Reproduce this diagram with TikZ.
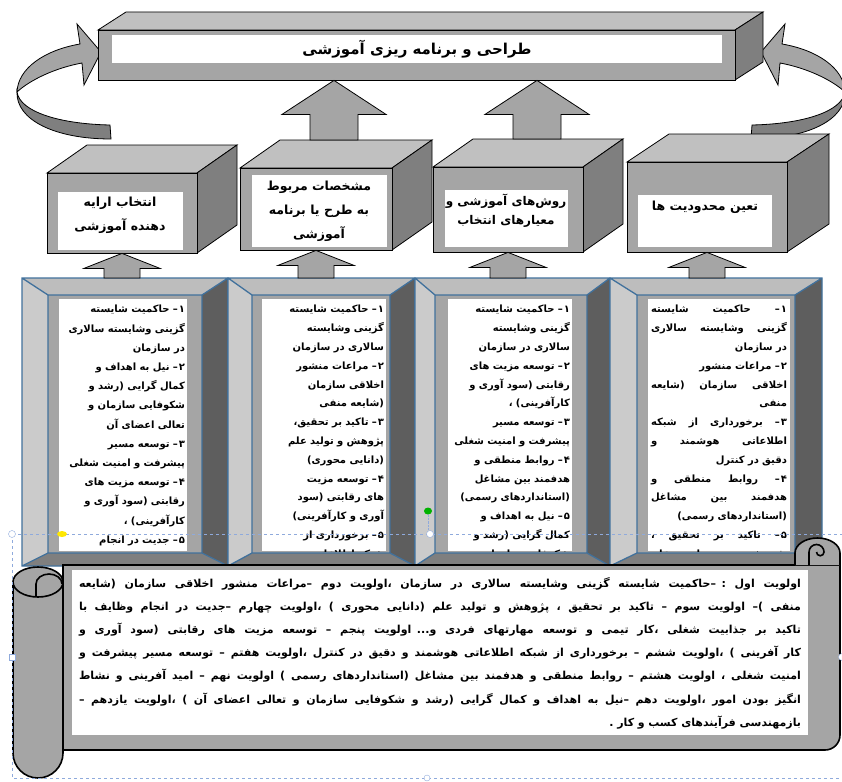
\documentclass[tikz,border=0pt]{standalone}
\usepackage{fontspec}
\usetikzlibrary{calc}
\newfontfamily\fa[Script=Arabic]{DejaVu Sans}
\TeXXeTstate=1

\definecolor{facegray}{HTML}{A5A5A5}
\definecolor{topgray}{HTML}{C0C0C0}
\definecolor{sidegray}{HTML}{7F7F7F}
\definecolor{bevlight}{HTML}{CBCBCB}
\definecolor{bevmid}{HTML}{BDBDBD}
\definecolor{bevdark}{HTML}{5E5E5E}
\definecolor{frameblue}{HTML}{41719C}
\definecolor{selblue}{HTML}{8FAADC}

\newcommand{\rl}[1]{\beginR#1\endR}
\newcommand{\itm}[1]{#1\kern1pt–}
\newcommand{\jline}[1]{\hbox to 722pt{\spaceskip=3.4pt plus 60pt minus 1pt\beginR#1\endR}}
\newcommand{\lastline}[1]{\hbox to 722pt{\hfill\beginR#1\endR}}
\newcommand{\fj}[1]{\hbox to 136pt{\spaceskip=3pt plus 60pt minus 1pt\beginR#1\endR}}
\newcommand{\fr}[1]{\hbox to 136pt{\hfill\beginR#1\endR}}

\tikzset{cubefront/.style={draw,thick,fill=facegray,inner sep=0pt}}
\tikzset{cubetop/.style={draw,thick,fill=topgray}}
\tikzset{cubeside/.style={draw,thick,fill=sidegray}}
\tikzset{tag/.style={fill=white,inner sep=0pt}}
\tikzset{caption/.style={font=\fa\bfseries\fontsize{12.5}{24}\selectfont,align=center,inner sep=0pt}}
\tikzset{blockarrow/.style={draw,thick,fill=facegray,line join=miter}}
\tikzset{bevline/.style={draw=frameblue,line width=1.3pt}}
\tikzset{notes/.style={font=\fa\bfseries\fontsize{10}{19.2}\selectfont,align=right,inner sep=0pt,anchor=north}}
\tikzset{scrollbody/.style={draw,line width=1.6pt,fill=facegray}}
\tikzset{prio/.style={font=\fa\bfseries\fontsize{11}{23.2}\selectfont,text width=722pt,inner sep=0pt}}
\tikzset{selline/.style={draw=selblue,dashed,line width=0.8pt}}

% 3d box: name, x1, y1, x2, y2, depth, lift
\newcommand{\cube}[7]{%
  \draw[cubetop] (#2,#3) -- (#2+#6,#3-#7) -- (#4+#6,#3-#7) -- (#4,#3) -- cycle;
  \draw[cubeside] (#4,#3) -- (#4+#6,#3-#7) -- (#4+#6,#5-#7) -- (#4,#5) -- cycle;
  \node[cubefront,minimum width=#4-#2,minimum height=#5-#3] (#1) at ({(#2+#4)/2},{(#3+#5)/2}) {};}

% bevelled frame: name, outer x1 x2, inner x1 x2, sheet x1 x2
\newcommand{\bevelframe}[7]{%
  \fill[bevmid] (#2,278) -- (#3,278) -- (#5,295) -- (#4,295) -- cycle;
  \fill[bevlight] (#2,278) -- (#4,295) -- (#4,553) -- (#2,566) -- cycle;
  \fill[bevdark] (#3,278) -- (#5,295) -- (#5,553) -- (#3,566) -- cycle;
  \fill[sidegray] (#2,566) -- (#4,553) -- (#5,553) -- (#3,566) -- cycle;
  \fill[facegray] (#4,295) rectangle (#5,553);
  \draw[bevline] (#2,278) rectangle (#3,566) (#4,295) rectangle (#5,553)
    (#2,278) -- (#4,295) (#3,278) -- (#5,295) (#2,566) -- (#4,553) (#3,566) -- (#5,553);
  \node[tag,minimum width=#7-#6,minimum height=252,anchor=north west] (#1s) at (#6,299) {};
  \node[inner sep=0pt,minimum width=#3-#2,minimum height=288,anchor=north west] (#1) at (#2,278) {};}

% block arrow pointing up: foot, tip, head length, head half width, shaft half width
\newcommand{\blockup}[5]{%
  \draw[blockarrow] let \p1=(#1), \p2=(#2) in
    (\x2,\y2) -- (\x2+#4pt,\y2-#3pt) -- (\x2+#5pt,\y2-#3pt) -- (\x2+#5pt,\y1)
    -- (\x2-#5pt,\y1) -- (\x2-#5pt,\y2-#3pt) -- (\x2-#4pt,\y2-#3pt) -- cycle;}

% twisted curved arrow
\newcommand{\twist}{%
  \draw[blockarrow] (80,44) .. controls (45,50) and (18,68) .. (17,92)
    .. controls (30,80) and (55,68) .. (82,63) -- (84,85) -- (101,52) -- (77,24) -- cycle;
  \draw[blockarrow,fill=sidegray] (17,92) .. controls (20,112) and (60,124) .. (110,125)
    -- (111,139) .. controls (55,139) and (16,120) .. (17,92) -- cycle;}

\begin{document}
\begin{tikzpicture}[x=1pt,y=-1pt]
\fill[white] (0,0) rectangle (842,781);
\useasboundingbox (0,0) rectangle (842,781);

% curved arrows
\twist
\begin{scope}[shift={(862,0)},xscale=-1]
  \twist
\end{scope}

% top bar
\cube{plan}{98}{30}{735}{80}{28}{18}
\node[tag,caption,font=\fa\bfseries\fontsize{15}{20}\selectfont,minimum width=610,minimum height=28] (plantag) at (417,49) {\rl{طراحی و برنامه ریزی آموزشی}};

% second row
\cube{b1}{47}{173}{197}{253}{40}{28}
\cube{b2}{240}{168}{392}{250}{40}{28}
\cube{b3}{433}{167}{583}{252}{40}{28}
\cube{b4}{627}{162}{787}{252}{42}{28}
\node[tag,minimum width=125,minimum height=58] (t1) at (120.5,221) {};
\node[tag,minimum width=135,minimum height=72] (t2) at (319.5,211) {};
\node[tag,minimum width=123,minimum height=57] (t3) at (506.5,218.5) {};
\node[tag,minimum width=134,minimum height=52] (t4) at (705,221) {};
\node[caption] (c1) at (120,215) {\rl{انتخاب ارایه}\\\rl{دهنده آموزشی}};
\node[caption] (c2) at (319,211) {\rl{مشخصات مربوط}\\\rl{به طرح یا برنامه}\\\rl{آموزشی}};
\node[caption,font=\fa\bfseries\fontsize{12}{19}\selectfont] (c3) at (506,211) {\rl{روش‌های آموزشی و}\\\rl{معیارهای انتخاب}};
\node[caption] (c4) at (705,207) {\rl{تعین محدودیت ها}};

% arrows into the top bar
\coordinate (b2up) at (334,140);
\coordinate (b3up) at (537,139);
\blockup{b2up}{plan.south -| b2up}{34}{52}{24}
\blockup{b3up}{plan.south -| b3up}{34}{52}{24}

% frames
\bevelframe{f1}{22}{228}{48}{202}{59}{187}
\bevelframe{f2}{228}{415}{252}{390}{262}{386}
\bevelframe{f3}{415}{610}{435}{587}{448}{572}
\bevelframe{f4}{610}{822}{637}{795}{648}{790}

% arrows from frames to boxes
\blockup{f1.north}{b1.south}{15}{38}{18}
\blockup{f2.north}{b2.south}{15}{38}{18}
\blockup{f3.north}{b3.south}{15}{38}{18}
\blockup{f4.north}{b4.south}{15}{38}{18}

\begin{scope}
  \clip (59,299) rectangle (187,551);
  \node[notes,text width=124pt] (n1) at (123,305) {\rl{\itm{۱} حاکمیت شایسته}\\\rl{گزینی وشایسته سالاری}\\\rl{در سازمان}\\\rl{\itm{۲} نیل به اهداف و}\\\rl{کمال گرایی (رشد و}\\\rl{شکوفایی سازمان و}\\\rl{تعالی اعضای آن}\\\rl{\itm{۳} توسعه مسیر}\\\rl{پیشرفت و امنیت شغلی}\\\rl{\itm{۴} توسعه مزیت های}\\\rl{رقابتی (سود آوری و}\\\rl{کارآفرینی) ،}\\\rl{\itm{۵} جدیت در انجام}};
\end{scope}
\begin{scope}
  \clip (262,299) rectangle (386,551);
  \node[notes,text width=120pt,font=\fa\bfseries\fontsize{10}{18.8}\selectfont] (n2) at (324,305) {\rl{\itm{۱} حاکمیت شایسته}\\\rl{گزینی وشایسته}\\\rl{سالاری در سازمان}\\\rl{\itm{۲} مراعات منشور}\\\rl{اخلاقی سازمان}\\\rl{(شایعه منفی}\\\rl{\itm{۳} تاکید بر تحقیق،}\\\rl{پژوهش و تولید علم}\\\rl{(دانایی محوری)}\\\rl{\itm{۴} توسعه مزیت}\\\rl{های رقابتی (سود}\\\rl{آوری و کارآفرینی)}\\\rl{\itm{۵} برخورداری از}\\\rl{شبکه اطلاعاتی}};
\end{scope}
\begin{scope}
  \clip (448,299) rectangle (572,551);
  \node[notes,text width=120pt,font=\fa\bfseries\fontsize{10}{18.8}\selectfont] (n3) at (510,305) {\rl{\itm{۱} حاکمیت شایسته}\\\rl{گزینی وشایسته}\\\rl{سالاری در سازمان}\\\rl{\itm{۲} توسعه مزیت های}\\\rl{رقابتی (سود آوری و}\\\rl{کارآفرینی) ،}\\\rl{\itm{۳} توسعه مسیر}\\\rl{پیشرفت و امنیت شغلی}\\\rl{\itm{۴} روابط منطقی و}\\\rl{هدفمند بین مشاغل}\\\rl{(استانداردهای رسمی)}\\\rl{\itm{۵} نیل به اهداف و}\\\rl{کمال گرایی (رشد و}\\\rl{شکوفایی سازمان و}};
\end{scope}
\begin{scope}
  \clip (648,299) rectangle (790,551);
  \node[notes,text width=136pt,font=\fa\bfseries\fontsize{10}{18.8}\selectfont] (n4) at (719,305) {%
    \fj{\itm{۱} حاکمیت شایسته}
    \fj{گزینی وشایسته سالاری}
    \fr{در سازمان}
    \fr{\itm{۲} مراعات منشور}
    \fj{اخلاقی سازمان (شایعه}
    \fr{منفی}
    \fj{\itm{۳} برخورداری از شبکه}
    \fj{اطلاعاتی هوشمند و}
    \fr{دقیق در کنترل}
    \fj{\itm{۴} روابط منطقی و}
    \fj{هدفمند بین مشاغل}
    \fr{(استانداردهای رسمی)}
    \fj{\itm{۵} تاکید بر تحقیق ،}
    \fj{پژوهش و تولید علم}};
\end{scope}

% scroll
\draw[scrollbody] (63,565) -- (840,565) -- (840,735) arc[start angle=0,end angle=90,radius=15] -- (63,750) -- cycle;
\draw[scrollbody] (795,565) -- (795,553) arc[start angle=180,end angle=360,x radius=22.5,y radius=15] -- (840,565);
\draw[line width=1.6pt] (809,565) -- (809,552) arc[start angle=180,end angle=360,radius=7.5] arc[start angle=0,end angle=180,radius=3.75];
\draw[scrollbody] (13,582) -- (13,753) arc[start angle=180,end angle=0,radius=25] -- (63,582)
  arc[start angle=0,end angle=-180,x radius=25,y radius=15] -- cycle;
\draw[line width=1.6pt] (13,582) arc[start angle=180,end angle=0,x radius=25,y radius=15];
\draw[line width=1.6pt,fill=facegray] (36,596) -- (36,584) arc[start angle=180,end angle=360,x radius=13,y radius=10];
\node[tag,minimum width=736,minimum height=165,anchor=north west] (paper) at (72,570) {};
\node[prio] (prio) at (440,653) {%
\jline{اولویت اول : –حاکمیت شایسته گزینی وشایسته سالاری در سازمان ،اولویت دوم –مراعات منشور اخلاقی سازمان (شایعه}
\jline{منفی )– اولویت سوم – تاکید بر تحقیق ، پژوهش و تولید علم (دانایی محوری ) ،اولویت چهارم –جدیت در انجام وظایف با}
\jline{تاکید بر جذابیت شغلی ،کار تیمی و توسعه مهارتهای فردی و... اولویت پنجم – توسعه مزیت های رقابتی (سود آوری و}
\jline{کار آفرینی ) ،اولویت ششم – برخورداری از شبکه اطلاعاتی هوشمند و دقیق در کنترل ،اولویت هفتم – توسعه مسیر پیشرفت و}
\jline{امنیت شغلی ، اولویت هشتم – روابط منطقی و هدفمند بین مشاغل (استانداردهای رسمی ) اولویت نهم – امید آفرینی و نشاط}
\jline{انگیز بودن امور ،اولویت دهم –نیل به اهداف و کمال گرایی (رشد و شکوفایی سازمان و تعالی اعضای آن ) ،اولویت یازدهم –}
\lastline{بازمهندسی فرآیندهای کسب و کار .}};

% selection marks
\draw[selline] (12,534) -- (842,534);
\draw[selline] (12,534) -- (12,778) -- (842,778);
\draw[selblue,densely dotted] (428,515) -- (428,530);
\draw[selblue,fill=white] (12,534) circle (3.5) (430,534) circle (3.5) (842,657) circle (3.5) (427,778) circle (3);
\draw[selblue,fill=white] (9,654) rectangle (15,660);
\fill[green!70!black] (428,511) ellipse (4 and 3.5);
\fill[yellow!90!orange] (62,534) ellipse (5 and 3);
\end{tikzpicture}
\end{document}
